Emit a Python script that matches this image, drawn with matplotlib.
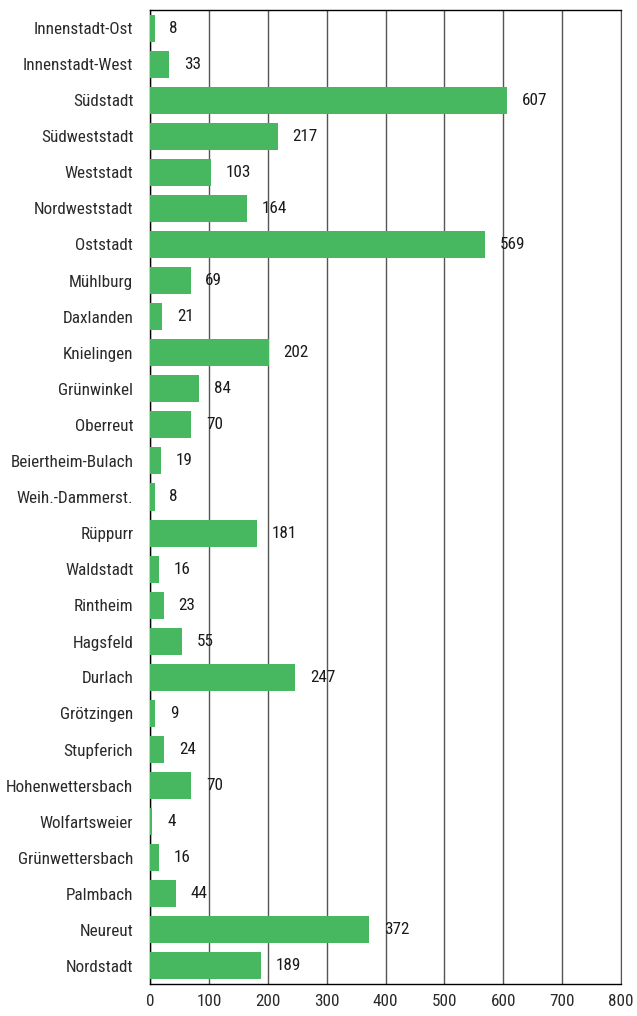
import matplotlib
matplotlib.use("Agg")
import matplotlib.pyplot as plt
from matplotlib import font_manager

categories = ["Innenstadt-Ost", "Innenstadt-West", "Südstadt", "Südweststadt", "Weststadt",
              "Nordweststadt", "Oststadt", "Mühlburg", "Daxlanden", "Knielingen", "Grünwinkel",
              "Oberreut", "Beiertheim-Bulach", "Weih.-Dammerst.", "Rüppurr", "Waldstadt",
              "Rintheim", "Hagsfeld", "Durlach", "Grötzingen", "Stupferich", "Hohenwettersbach",
              "Wolfartsweier", "Grünwettersbach", "Palmbach", "Neureut", "Nordstadt"]
values = [8, 33, 607, 217, 103, 164, 569, 69, 21, 202, 84, 70, 19, 8, 181, 16, 23, 55,
          247, 9, 24, 70, 4, 16, 44, 372, 189]
xticks = [0, 100, 200, 300, 400, 500, 600, 700, 800]

names = {f.name for f in font_manager.fontManager.ttflist}
fam = 'Lato'
for cand in ['Roboto Condensed', 'Open Sans Condensed', 'Lato']:
    if cand in names:
        fam = cand
        break
plt.rcParams['font.family'] = [fam, 'DejaVu Sans']
fs = 12.3

fig = plt.figure(figsize=(6.37, 10.16), dpi=100)
ax = fig.add_axes([150/637, 1-984/1016, 471/637, 974/1016])

y = list(range(len(categories)))
ax.barh(y, values, height=0.75, color="#47b85f", zorder=3)
for yi, v in zip(y, values):
    ax.text(v + 25, yi, str(v), va="center", ha="left", fontsize=fs, color="#1a1a1a", zorder=4)

ax.set_ylim(len(categories) - 0.5, -0.5)
ax.set_xlim(0, 800)
ax.set_yticks(y)
ax.set_yticklabels(categories, fontsize=fs, color="#2a2a2a")
ax.set_xticks(xticks)
ax.set_xticklabels([str(t) for t in xticks], fontsize=fs, color="#2a2a2a")
ax.tick_params(axis="both", length=0)
ax.tick_params(axis="y", pad=12)
ax.tick_params(axis="x", pad=7)
ax.xaxis.grid(True, color="#555555", linewidth=1.0, zorder=1)
ax.set_axisbelow(True)
for s in ["left", "bottom", "top"]:
    ax.spines[s].set_color("black")
    ax.spines[s].set_linewidth(1.0)
ax.spines["right"].set_color("#555555")

fig.savefig("out.png", dpi=100)
